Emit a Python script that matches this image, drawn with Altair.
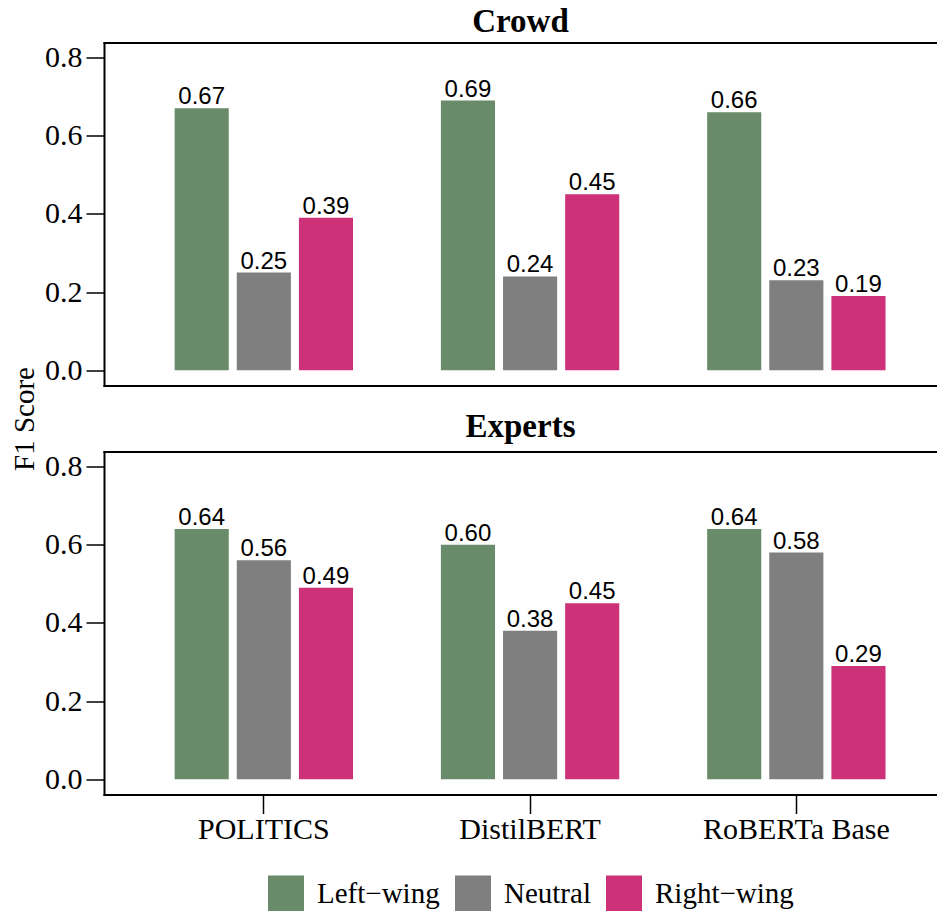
import altair as alt
import pandas as pd

models = ["POLITICS", "DistilBERT", "RoBERTa Base"]
leanings = ["Left\u2212wing", "Neutral", "Right\u2212wing"]

crowd_left = [0.67, 0.69, 0.66]
crowd_neutral = [0.25, 0.24, 0.23]
crowd_right = [0.39, 0.45, 0.19]

expert_left = [0.64, 0.60, 0.64]
expert_neutral = [0.56, 0.38, 0.58]
expert_right = [0.49, 0.45, 0.29]

colors = ["#698B69", "#7F7F7F", "#CD3278"]
y_ticks = [0.0, 0.2, 0.4, 0.6, 0.8]

SERIF = "Liberation Serif"
SANS = "Liberation Sans"
W, H = 833, 343


def make_df(left, neutral, right):
    rows = []
    for i, m in enumerate(models):
        for lean, vals in zip(leanings, [left, neutral, right]):
            rows.append({"Model": m, "Leaning": lean, "F1": vals[i]})
    return pd.DataFrame(rows)


x_scale = alt.Scale(paddingInner=0.3, paddingOuter=0.2143, align=0.584)
xo_scale = alt.Scale(paddingInner=0.129, paddingOuter=0.0645)
y_scale = alt.Scale(domain=[-0.039, 0.8385], nice=False, zero=False)

frame = dict(domain=True, domainColor="black", domainWidth=2, domainCap="square", grid=False)


def panel(df, title, bottom, title_offset):
    y_axis = alt.Axis(
        values=y_ticks, format=".1f", labelFont=SERIF, labelFontSize=30,
        labelColor="black", tickSize=18, tickWidth=1.5, tickColor="black",
        labelPadding=4,
        title=None if bottom else "F1 Score",
        titleFont=SERIF, titleFontSize=29, titleFontWeight="normal",
        titleColor="black", titleAngle=270, titleX=-80, titleY=376,
        titleAlign="center", titleBaseline="middle", **frame,
    )
    if bottom:
        x_axis = alt.Axis(
            orient="bottom", labelFont=SERIF, labelFontSize=30, labelColor="black",
            labelAngle=0, labelLimit=400, tickSize=19, tickWidth=1.5,
            tickColor="black", labelPadding=1, title=None, **frame,
        )
    else:
        x_axis = alt.Axis(orient="bottom", labels=False, ticks=False, title=None, **frame)
    x_top = alt.Axis(orient="top", labels=False, ticks=False, title=None, **frame)

    xo = alt.XOffset("Leaning:N", sort=leanings, scale=xo_scale)
    y = alt.Y("F1:Q", stack=None, scale=y_scale, axis=y_axis)

    bars = alt.Chart(df).mark_bar(strokeWidth=0).encode(
        x=alt.X("Model:N", sort=models, scale=x_scale, axis=x_axis),
        xOffset=xo,
        y=y,
        y2=alt.datum(0),
        color=alt.Color(
            "Leaning:N", sort=leanings,
            scale=alt.Scale(domain=leanings, range=colors),
            legend=alt.Legend(
                orient="none", legendX=164, legendY=833, direction="horizontal",
                title=None, symbolType="square", symbolSize=1296,
                symbolStrokeWidth=0, symbolOpacity=1, labelFont=SERIF,
                labelFontSize=29, labelColor="black", labelOffset=13,
                columnPadding=15, labelLimit=300,
            ),
        ),
    )
    text = alt.Chart(df).mark_text(
        baseline="alphabetic", dy=-4, font=SANS, fontSize=24, color="black"
    ).encode(
        x=alt.X("Model:N", sort=models, scale=x_scale, axis=x_top),
        xOffset=xo,
        y=y,
        text=alt.Text("F1:Q", format=".2f"),
    )
    return alt.layer(bars, text).resolve_axis(x="independent").properties(
        width=W, height=H,
        title=alt.Title(title, font=SERIF, fontSize=33, fontWeight="bold",
                        anchor="middle", offset=title_offset, color="black"),
    )


top = panel(make_df(crowd_left, crowd_neutral, crowd_right), "Crowd", False, 3.5)
bottom = panel(make_df(expert_left, expert_neutral, expert_right), "Experts", True, 8)

chart = alt.vconcat(top, bottom, spacing=66, bounds="flush").resolve_scale(
    color="shared"
).properties(
    padding={"left": 2, "top": -2.5, "right": 0, "bottom": -1}
).configure_view(
    stroke=None
)

chart.save("out.html", embed_options={"renderer": "svg", "actions": False})
